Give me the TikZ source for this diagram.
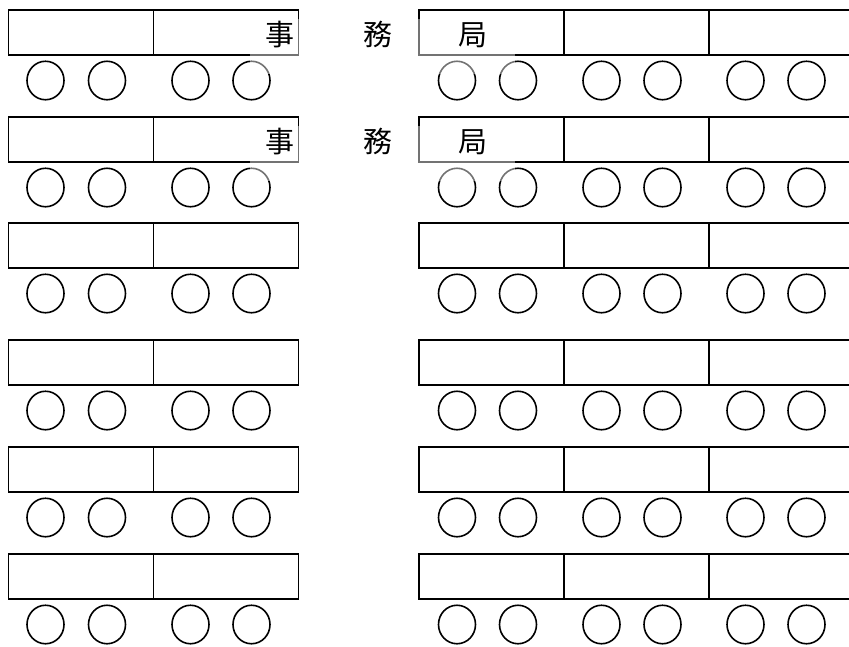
\documentclass[tikz,border=0pt]{standalone}
\usepackage{fontspec}
\newfontfamily\cjk{Noto Sans CJK JP}
\usetikzlibrary{shapes.geometric}
\begin{document}
\begin{tikzpicture}[x=1pt,y=-1pt,
  cell/.style={draw, line width=1.6pt, minimum width=145pt, minimum height=45pt, inner sep=0pt, anchor=north west},
  seat/.style={draw, ellipse, line width=1.6pt, minimum width=37pt, minimum height=38.5pt, inner sep=0pt},
  veil/.style={fill=white, fill opacity=0.45},
  label/.style={font=\cjk\fontsize{29}{29}\selectfont, anchor=base, inner sep=0pt}]
\clip (0,0) rectangle (849,646);
\fill[white] (0,0) rectangle (849,646);
\foreach \t [count=\r] in {9,116,222,339,446,553}{
  \node[cell] (L\r a) at (7.5,\t) {};
  \node[cell] (L\r b) at (152.5,\t) {};
  \node[cell] (R\r a) at (418,\t) {};
  \node[cell] (R\r b) at (563,\t) {};
  \node[cell] (R\r c) at (708,\t) {};
  \foreach \x [count=\i] in {45.5,107,190.5,251.5}{
    \node[seat] (LS\r-\i) at (\x,\t+71.5) {};
  }
  \foreach \x [count=\i] in {457,518,601.5,662.5,745.5,806.5}{
    \node[seat] (RS\r-\i) at (\x,\t+71.5) {};
  }
}
\foreach \t [count=\r] in {9,116}{
  \fill[veil] (250,\t+10) rectangle (515,\t+65);
  \node[label] (ji\r) at (280,\t+36) {事};
  \node[label] (mu\r) at (377.5,\t+36) {務};
  \node[label] (kyoku\r) at (473,\t+36) {局};
}
\end{tikzpicture}
\end{document}
